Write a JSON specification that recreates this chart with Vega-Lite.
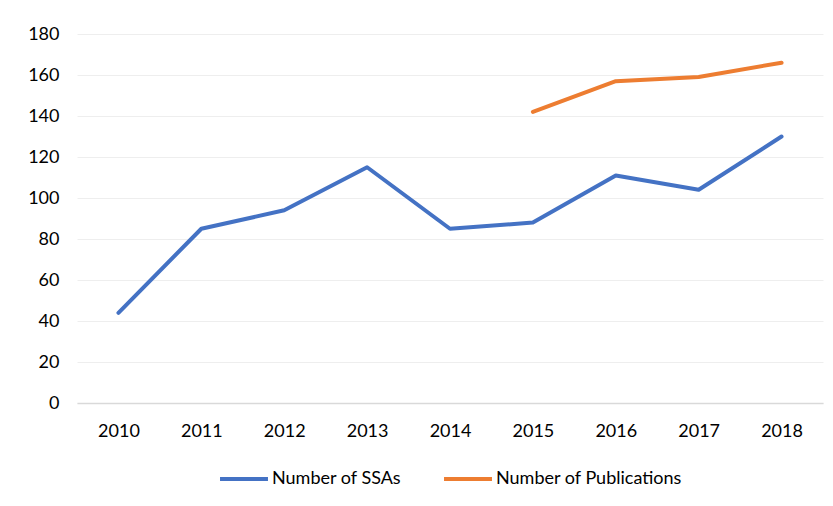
{
  "$schema": "https://vega.github.io/schema/vega-lite/v6.json",
  "width": 746,
  "height": 369,
  "padding": {"left": 77, "top": 34, "right": 10, "bottom": 103},
  "autosize": {"type": "none"},
  "background": "white",
  "data": {
    "values": [
      {"year": "2010", "series": "Number of SSAs", "value": 44},
      {"year": "2011", "series": "Number of SSAs", "value": 85},
      {"year": "2012", "series": "Number of SSAs", "value": 94},
      {"year": "2013", "series": "Number of SSAs", "value": 115},
      {"year": "2014", "series": "Number of SSAs", "value": 85},
      {"year": "2015", "series": "Number of SSAs", "value": 88},
      {"year": "2016", "series": "Number of SSAs", "value": 111},
      {"year": "2017", "series": "Number of SSAs", "value": 104},
      {"year": "2018", "series": "Number of SSAs", "value": 130},
      {"year": "2015", "series": "Number of Publications", "value": 142},
      {"year": "2016", "series": "Number of Publications", "value": 157},
      {"year": "2017", "series": "Number of Publications", "value": 159},
      {"year": "2018", "series": "Number of Publications", "value": 166}
    ]
  },
  "mark": {"type": "line", "strokeWidth": 4, "strokeCap": "round", "strokeJoin": "round"},
  "encoding": {
    "x": {
      "field": "year", "type": "ordinal",
      "scale": {"paddingInner": 0, "paddingOuter": 0.5},
      "axis": {"title": null, "labelAngle": 0, "ticks": false, "domainColor": "#d9d9d9", "domainWidth": 1.5, "labelPadding": 19, "grid": false}
    },
    "y": {
      "field": "value", "type": "quantitative",
      "scale": {"domain": [0, 180]},
      "axis": {"title": null, "values": [0,20,40,60,80,100,120,140,160,180], "domain": false, "ticks": false, "labelPadding": 18, "gridColor": "#eeeeee", "gridWidth": 1}
    },
    "color": {
      "field": "series", "type": "nominal",
      "sort": ["Number of SSAs", "Number of Publications"],
      "scale": {"domain": ["Number of SSAs", "Number of Publications"], "range": ["#4472C4", "#ED7D31"]},
      "legend": {"title": null, "orient": "bottom", "direction": "horizontal", "symbolType": "stroke", "symbolSize": 2300, "symbolStrokeWidth": 4, "labelOffset": 2, "columnPadding": 34, "offset": 13, "labelLimit": 0}
    }
  },
  "config": {
    "font": "Lato",
    "view": {"stroke": null},
    "axis": {"labelFont": "Lato", "labelFontSize": 18, "labelColor": "#000000"},
    "legend": {"labelFont": "Lato", "labelFontSize": 18, "labelColor": "#000000", "labelLimit": 0, "layout": {"bottom": {"anchor": "middle"}}}
  }
}
